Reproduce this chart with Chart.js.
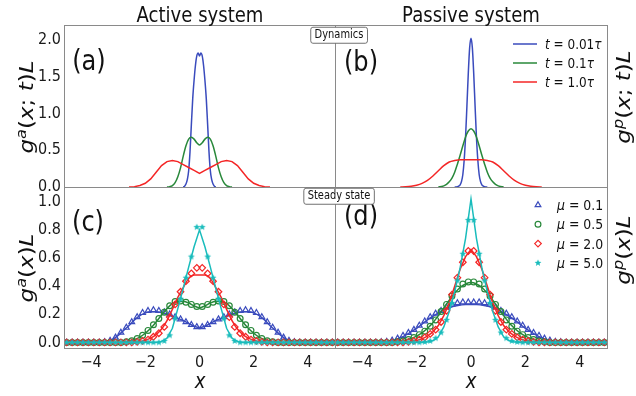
<!DOCTYPE html>
<html>
<head>
<meta charset="utf-8">
<script src="https://cdn.jsdelivr.net/npm/chart.js@4.4.1/dist/chart.umd.min.js"></script>
<style>
  body { margin: 0; background: #fff; }
  #wrap { position: relative; width: 636px; height: 396px; overflow: hidden; font-family: 'DejaVu Sans', sans-serif; color: #111; }
  #wrap canvas { position: absolute; left: 0; top: 0; }
  .t { position: absolute; white-space: nowrap; line-height: 1; }
  .c { transform: translate(-50%, -50%) scaleX(.86); }
  .l { transform: translateY(-50%) scaleX(.86); transform-origin: 0 50%; }
  .v { transform: translate(-50%, -50%) scaleX(.86) rotate(-90deg); }
  .s { font-size: .7em; vertical-align: .55em; line-height: 0; }
  .box { border: 1px solid #666; border-radius: 3px; background: #fff; padding: 1px 4px 2px; font-size: 11.5px; }
  i { font-style: italic; }
</style>
</head>
<body>
<div id="wrap">
  <canvas id="pa" width="636" height="396"></canvas>
  <canvas id="pb" width="636" height="396"></canvas>
  <canvas id="pc" width="636" height="396"></canvas>
  <canvas id="pd" width="636" height="396"></canvas>

  <div class="t c" style="left:200px;top:15px;font-size:21px">Active system</div>
  <div class="t c" style="left:471px;top:15px;font-size:21px">Passive system</div>

  <div class="t c" style="left:89px;top:61px;font-size:28px">(a)</div>
  <div class="t c" style="left:361px;top:62px;font-size:28px">(b)</div>
  <div class="t c" style="left:88px;top:222px;font-size:28px">(c)</div>
  <div class="t c" style="left:361px;top:216px;font-size:28px">(d)</div>

  <div class="t v" style="left:27px;top:107px;font-size:23px"><i>g</i><span class="s"><i>a</i></span>(<i>x</i>; <i>t</i>)<i>L</i></div>
  <div class="t v" style="left:27px;top:268px;font-size:23px"><i>g</i><span class="s"><i>a</i></span>(<i>x</i>)<i>L</i></div>
  <div class="t v" style="left:624px;top:97px;font-size:23px"><i>g</i><span class="s"><i>p</i></span>(<i>x</i>; <i>t</i>)<i>L</i></div>
  <div class="t v" style="left:624px;top:250px;font-size:23px"><i>g</i><span class="s"><i>p</i></span>(<i>x</i>)<i>L</i></div>

  <div class="t c" style="left:200px;top:381px;font-size:21px"><i>x</i></div>
  <div class="t c" style="left:471px;top:381px;font-size:21px"><i>x</i></div>

  <div class="t c box" style="left:339px;top:35px">Dynamics</div>
  <div class="t c box" style="left:339px;top:196px">Steady state</div>

  <div class="t l" style="left:545px;top:44px;font-size:14px"><i>t</i> = 0.01<i>τ</i></div>
  <div class="t l" style="left:545px;top:63px;font-size:14px"><i>t</i> = 0.1<i>τ</i></div>
  <div class="t l" style="left:545px;top:82px;font-size:14px"><i>t</i> = 1.0<i>τ</i></div>

  <div class="t l" style="left:557px;top:205px;font-size:14.5px"><i>μ</i> = 0.1</div>
  <div class="t l" style="left:557px;top:224px;font-size:14.5px"><i>μ</i> = 0.5</div>
  <div class="t l" style="left:557px;top:244px;font-size:14.5px"><i>μ</i> = 2.0</div>
  <div class="t l" style="left:557px;top:263px;font-size:14.5px"><i>μ</i> = 5.0</div>
</div>
<script>
// ---- dynamics (top panels) ----
const xNarrow = [-0.6,-0.55,-0.5,-0.45,-0.4,-0.35,-0.3,-0.25,-0.2,-0.15,-0.1,-0.05,0,0.05,0.1,0.15,0.2,0.25,0.3,0.35,0.4,0.45,0.5,0.55,0.6];
const xMid = [-1.2,-1.1,-1.0,-0.9,-0.8,-0.7,-0.6,-0.5,-0.4,-0.3,-0.2,-0.1,0,0.1,0.2,0.3,0.4,0.5,0.6,0.7,0.8,0.9,1.0,1.1,1.2];
const xWide = [-2.6,-2.4,-2.2,-2.0,-1.8,-1.6,-1.4,-1.2,-1.0,-0.8,-0.6,-0.4,-0.2,0,0.2,0.4,0.6,0.8,1.0,1.2,1.4,1.6,1.8,2.0,2.2,2.4,2.6];

const activeT001 = [0,0.01,0.04,0.1,0.22,0.48,0.85,1.2,1.45,1.65,1.78,1.82,1.78,1.82,1.78,1.65,1.45,1.2,0.85,0.48,0.22,0.1,0.04,0.01,0];
const activeT01 = [0,0.005,0.02,0.06,0.14,0.26,0.42,0.56,0.65,0.675,0.65,0.6,0.57,0.6,0.65,0.675,0.65,0.56,0.42,0.26,0.14,0.06,0.02,0.005,0];
const activeT1 = [0,0.005,0.02,0.05,0.11,0.2,0.29,0.345,0.36,0.345,0.305,0.265,0.225,0.185,0.225,0.265,0.305,0.345,0.36,0.345,0.29,0.2,0.11,0.05,0.02,0.005,0];

const passiveT001 = [0,0.001,0.004,0.012,0.03,0.075,0.17,0.37,0.68,1.1,1.54,1.89,2.02,1.89,1.54,1.1,0.68,0.37,0.17,0.075,0.03,0.012,0.004,0.001,0];
const passiveT01 = [0,0.006,0.015,0.035,0.07,0.12,0.2,0.31,0.43,0.56,0.68,0.76,0.79,0.76,0.68,0.56,0.43,0.31,0.2,0.12,0.07,0.035,0.015,0.006,0];
const passiveT1 = [0,0.003,0.01,0.025,0.05,0.09,0.15,0.22,0.29,0.34,0.36,0.37,0.37,0.37,0.37,0.37,0.36,0.34,0.29,0.22,0.15,0.09,0.05,0.025,0.01,0.003,0];

// ---- steady state (bottom panels) ----
const lineX = [-5,-4.8,-4.6,-4.4,-4.2,-4,-3.8,-3.6,-3.4,-3.2,-3,-2.8,-2.6,-2.4,-2.2,-2,-1.8,-1.6,-1.4,-1.2,-1,-0.8,-0.6,-0.4,-0.2,0,0.2,0.4,0.6,0.8,1,1.2,1.4,1.6,1.8,2,2.2,2.4,2.6,2.8,3,3.2,3.4,3.6,3.8,4,4.2,4.4,4.6,4.8,5];
const markX = [-4.9,-4.7,-4.5,-4.3,-4.1,-3.9,-3.7,-3.5,-3.3,-3.1,-2.9,-2.7,-2.5,-2.3,-2.1,-1.9,-1.7,-1.5,-1.3,-1.1,-0.9,-0.7,-0.5,-0.3,-0.1,0.1,0.3,0.5,0.7,0.9,1.1,1.3,1.5,1.7,1.9,2.1,2.3,2.5,2.7,2.9,3.1,3.3,3.5,3.7,3.9,4.1,4.3,4.5,4.7,4.9];

const activeMu01Line = [0,0,0,0,0,0,0,0.001,0.006,0.022,0.05,0.085,0.12,0.16,0.19,0.21,0.218,0.218,0.212,0.2,0.185,0.17,0.155,0.135,0.115,0.105,0.115,0.135,0.155,0.17,0.185,0.2,0.212,0.218,0.218,0.21,0.19,0.16,0.12,0.085,0.05,0.022,0.006,0.001,0,0,0,0,0,0,0];
const activeMu05Line = [0,0,0,0,0,0,0,0,0,0,0,0.002,0.008,0.02,0.038,0.065,0.1,0.145,0.195,0.24,0.275,0.29,0.29,0.28,0.26,0.245,0.26,0.28,0.29,0.29,0.275,0.24,0.195,0.145,0.1,0.065,0.038,0.02,0.008,0.002,0,0,0,0,0,0,0,0,0,0,0];
const activeMu2Line = [0,0,0,0,0,0,0,0,0,0,0,0,0,0.002,0.006,0.015,0.03,0.055,0.095,0.155,0.235,0.32,0.39,0.455,0.48,0.48,0.48,0.455,0.39,0.32,0.235,0.155,0.095,0.055,0.03,0.015,0.006,0.002,0,0,0,0,0,0,0,0,0,0,0,0,0];
const activeMu5Line = [0,0,0,0,0,0,0,0,0,0,0,0,0,0,0,0,0,0,0.006,0.03,0.1,0.24,0.385,0.535,0.68,0.8,0.68,0.535,0.385,0.24,0.1,0.03,0.006,0,0,0,0,0,0,0,0,0,0,0,0,0,0,0,0,0,0];

const activeMu01Sim = [0,0,0,0,0,0,0,0.003,0.012,0.035,0.07,0.105,0.145,0.18,0.21,0.225,0.23,0.225,0.215,0.2,0.18,0.165,0.145,0.125,0.11,0.11,0.125,0.145,0.165,0.18,0.2,0.215,0.225,0.23,0.225,0.21,0.18,0.145,0.105,0.07,0.035,0.012,0.003,0,0,0,0,0,0,0];
const activeMu05Sim = [0,0,0,0,0,0,0,0,0,0,0,0.004,0.012,0.028,0.05,0.085,0.125,0.17,0.215,0.26,0.29,0.295,0.285,0.27,0.255,0.255,0.27,0.285,0.295,0.29,0.26,0.215,0.17,0.125,0.085,0.05,0.028,0.012,0.004,0,0,0,0,0,0,0,0,0,0,0];
const activeMu2Sim = [0,0,0,0,0,0,0,0,0,0,0,0,0,0.004,0.01,0.02,0.04,0.065,0.11,0.18,0.27,0.36,0.435,0.49,0.53,0.53,0.49,0.435,0.36,0.27,0.18,0.11,0.065,0.04,0.02,0.01,0.004,0,0,0,0,0,0,0,0,0,0,0,0,0];
const activeMu5Sim = [0,0,0,0,0,0,0,0,0,0,0,0,0,0,0,0,0,0,0.01,0.05,0.17,0.31,0.46,0.61,0.82,0.82,0.61,0.46,0.31,0.17,0.05,0.01,0,0,0,0,0,0,0,0,0,0,0,0,0,0,0,0,0,0];

const passiveMu01Line = [0,0,0,0,0,0,0,0,0,0.003,0.008,0.018,0.033,0.052,0.075,0.1,0.13,0.16,0.185,0.21,0.23,0.245,0.258,0.265,0.27,0.27,0.27,0.265,0.258,0.245,0.23,0.21,0.185,0.16,0.13,0.1,0.075,0.052,0.033,0.018,0.008,0.003,0,0,0,0,0,0,0,0,0];
const passiveMu05Line = [0,0,0,0,0,0,0,0,0,0,0,0.003,0.008,0.016,0.028,0.045,0.068,0.1,0.14,0.19,0.245,0.3,0.35,0.39,0.415,0.425,0.415,0.39,0.35,0.3,0.245,0.19,0.14,0.1,0.068,0.045,0.028,0.016,0.008,0.003,0,0,0,0,0,0,0,0,0,0,0];
const passiveMu2Line = [0,0,0,0,0,0,0,0,0,0,0,0,0,0.002,0.006,0.013,0.025,0.045,0.075,0.12,0.19,0.28,0.4,0.52,0.61,0.66,0.61,0.52,0.4,0.28,0.19,0.12,0.075,0.045,0.025,0.013,0.006,0.002,0,0,0,0,0,0,0,0,0,0,0,0,0];
const passiveMu5Line = [0,0,0,0,0,0,0,0,0,0,0,0,0,0,0,0,0,0.003,0.012,0.04,0.11,0.22,0.36,0.53,0.74,1.02,0.74,0.53,0.36,0.22,0.11,0.04,0.012,0.003,0,0,0,0,0,0,0,0,0,0,0,0,0,0,0,0,0];

const passiveMu01Sim = [0,0,0,0,0,0,0,0,0.002,0.005,0.014,0.028,0.048,0.068,0.09,0.12,0.15,0.18,0.205,0.225,0.25,0.27,0.28,0.285,0.285,0.285,0.285,0.28,0.27,0.25,0.225,0.205,0.18,0.15,0.12,0.09,0.068,0.048,0.028,0.014,0.005,0.002,0,0,0,0,0,0,0,0];
const passiveMu05Sim = [0,0,0,0,0,0,0,0,0,0,0,0.004,0.01,0.02,0.035,0.055,0.08,0.115,0.16,0.22,0.27,0.33,0.38,0.415,0.43,0.43,0.415,0.38,0.33,0.27,0.22,0.16,0.115,0.08,0.055,0.035,0.02,0.01,0.004,0,0,0,0,0,0,0,0,0,0,0];
const passiveMu2Sim = [0,0,0,0,0,0,0,0,0,0,0,0,0,0.004,0.01,0.02,0.035,0.06,0.09,0.145,0.225,0.34,0.46,0.57,0.65,0.65,0.57,0.46,0.34,0.225,0.145,0.09,0.06,0.035,0.02,0.01,0.004,0,0,0,0,0,0,0,0,0,0,0,0,0];
const passiveMu5Sim = [0,0,0,0,0,0,0,0,0,0,0,0,0,0,0,0,0.003,0.01,0.03,0.07,0.16,0.28,0.44,0.63,0.87,0.87,0.63,0.44,0.28,0.16,0.07,0.03,0.01,0.003,0,0,0,0,0,0,0,0,0,0,0,0,0,0,0,0];

const xTicks = [-4, -2, 0, 2, 4];
const yTicksTop = [0, 0.5, 1.0, 1.5, 2.0];
const yTicksBottom = [0, 0.2, 0.4, 0.6, 0.8, 1.0];

const BLUE = '#3a4bbd', GREEN = '#28883a', RED = '#f42626', CYAN = '#19bcbc';

Chart.defaults.font.family = "'DejaVu Sans Condensed', 'DejaVu Sans', sans-serif";
Chart.defaults.font.size = 16;
Chart.defaults.color = '#1a1a1a';

// filled star marker (matplotlib '*')
function starImage(r) {
    const c = document.createElement('canvas');
    const s = Math.ceil(r * 2 + 2);
    c.width = c.height = s;
    const g = c.getContext('2d');
    g.fillStyle = CYAN;
    g.beginPath();
    for (let k = 0; k < 10; k++) {
        const rr = k % 2 ? r * 0.45 : r;
        const a = -Math.PI / 2 + k * Math.PI / 5;
        g.lineTo(s / 2 + rr * Math.cos(a), s / 2 + rr * Math.sin(a));
    }
    g.closePath();
    g.fill();
    return c;
}
const star = starImage(3.6);

const pts = (xs, ys) => xs.map((x, i) => ({ x: x, y: ys[i] }));

function curve(xs, ys, color, sharp) {
    return {
        data: pts(xs, ys), showLine: true, pointRadius: 0,
        borderColor: color, borderWidth: 1.5,
        cubicInterpolationMode: sharp ? 'default' : 'monotone', tension: 0
    };
}
function sim(ys, color, style, r) {
    return {
        data: pts(markX, ys), showLine: false, pointStyle: style, pointRadius: r,
        borderColor: color, backgroundColor: 'rgba(0,0,0,0)', pointBorderWidth: 1.2
    };
}

// grey frame round each axes
const frame = {
    id: 'frame',
    afterDatasetsDraw(chart) {
        const a = chart.chartArea, g = chart.ctx;
        g.save();
        g.strokeStyle = '#8a8a8a';
        g.lineWidth = 1;
        g.strokeRect(Math.round(a.left) + 0.5, Math.round(a.top) + 0.5, Math.round(a.right - a.left), Math.round(a.bottom - a.top));
        g.restore();
    }
};

// legend handles (text is html)
const handles = {
    id: 'handles',
    afterDraw(chart, args, opts) {
        const g = chart.ctx, a = chart.chartArea;
        (opts.rows || []).forEach((r, i) => {
            const x = a.right + opts.dx, y = a.top + opts.top + i * opts.step;
            g.save();
            g.strokeStyle = r.color;
            g.fillStyle = 'rgba(0,0,0,0)';
            g.lineWidth = 1.5;
            if (r.style === 'line') {
                g.beginPath(); g.moveTo(x - 12, y); g.lineTo(x + 12, y); g.stroke();
            } else {
                g.lineWidth = 1.2;
                Chart.helpers.drawPoint(g, { pointStyle: r.style, radius: r.r, rotation: 0, borderWidth: 1.2 }, x, y);
            }
            g.restore();
        });
    }
};

const W = 636, H = 396;

function panel(id, box, yTicks, showX, yMin, yMax, datasets, legend) {
    const yW = yTicks ? 44 : 0, xH = showX ? 26 : 0;
    return new Chart(document.getElementById(id), {
        type: 'scatter',
        data: { datasets: datasets },
        options: {
            responsive: false,
            animation: false,
            events: [],
            layout: { padding: { left: box.l - yW, right: W - box.r, top: box.t, bottom: H - box.b - xH } },
            plugins: {
                legend: { display: false },
                tooltip: { enabled: false },
                handles: legend || { rows: [] }
            },
            scales: {
                x: {
                    type: 'linear', min: -5, max: 5, display: showX,
                    grid: { display: false, drawTicks: false },
                    border: { display: false },
                    afterFit: s => { s.height = xH; },
                    afterBuildTicks: s => { s.ticks = xTicks.map(v => ({ value: v })); },
                    ticks: { padding: 5, callback: v => v < 0 ? '\u2212' + (-v) : String(v) }
                },
                y: {
                    type: 'linear', min: yMin, max: yMax, display: !!yTicks,
                    grid: { display: false, drawTicks: false },
                    border: { display: false },
                    afterFit: s => { s.width = yW; },
                    afterBuildTicks: s => { if (yTicks) s.ticks = yTicks.map(v => ({ value: v })); },
                    ticks: { padding: 3, callback: v => v.toFixed(1) }
                }
            }
        },
        plugins: [frame, handles]
    });
}

const rowTop = { t: 25, b: 187 }, rowBottom = { t: 187, b: 348 };
const colLeft = { l: 64, r: 335 }, colRight = { l: 335, r: 607 };

panel('pa', { ...colLeft, ...rowTop }, yTicksTop, false, 0, 2.2, [
    curve(xWide, activeT1, RED, true),
    curve(xMid, activeT01, GREEN),
    curve(xNarrow, activeT001, BLUE)
]);

panel('pb', { ...colRight, ...rowTop }, null, false, 0, 2.2, [
    curve(xWide, passiveT1, RED),
    curve(xMid, passiveT01, GREEN),
    curve(xNarrow, passiveT001, BLUE)
], { dx: -82, top: 19, step: 19, rows: [
    { style: 'line', color: BLUE }, { style: 'line', color: GREEN }, { style: 'line', color: RED }
] });

panel('pc', { ...colLeft, ...rowBottom }, yTicksBottom, true, -0.04, 1.105, [
    sim(activeMu5Sim, CYAN, star, 3.6),
    curve(lineX, activeMu5Line, CYAN, true),
    sim(activeMu2Sim, RED, 'rectRot', 3.3),
    curve(lineX, activeMu2Line, RED),
    sim(activeMu05Sim, GREEN, 'circle', 2.9),
    curve(lineX, activeMu05Line, GREEN),
    sim(activeMu01Sim, BLUE, 'triangle', 3.3),
    curve(lineX, activeMu01Line, BLUE)
]);

panel('pd', { ...colRight, ...rowBottom }, null, true, -0.04, 1.105, [
    sim(passiveMu5Sim, CYAN, star, 3.6),
    curve(lineX, passiveMu5Line, CYAN, true),
    sim(passiveMu2Sim, RED, 'rectRot', 3.3),
    curve(lineX, passiveMu2Line, RED, true),
    sim(passiveMu05Sim, GREEN, 'circle', 2.9),
    curve(lineX, passiveMu05Line, GREEN),
    sim(passiveMu01Sim, BLUE, 'triangle', 3.3),
    curve(lineX, passiveMu01Line, BLUE)
], { dx: -69, top: 18, step: 19.3, rows: [
    { style: 'triangle', color: BLUE, r: 3.3 }, { style: 'circle', color: GREEN, r: 2.9 },
    { style: 'rectRot', color: RED, r: 3.3 }, { style: star, color: CYAN, r: 3.6 }
] });
</script>
</body>
</html>
